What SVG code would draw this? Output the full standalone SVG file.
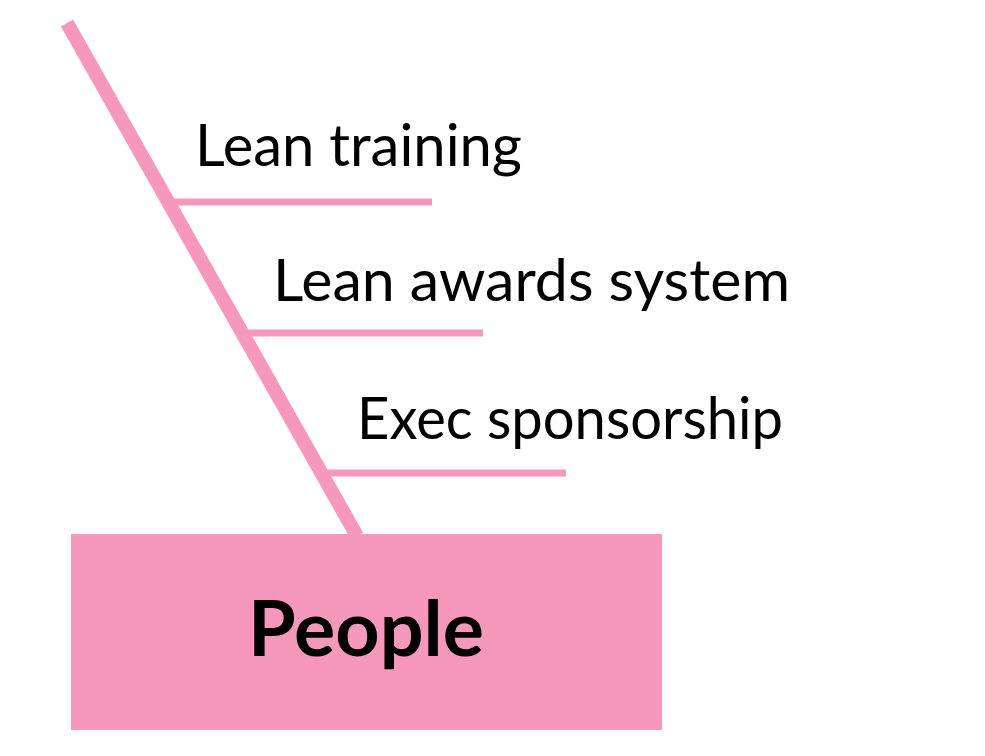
<svg xmlns="http://www.w3.org/2000/svg" width="985" height="756" viewBox="0 0 985 756">
<style>
.bone{stroke:#F598BB;fill:none;stroke-linecap:butt}
.lbl{font-family:Lato,"Liberation Sans",sans-serif;font-size:58px;fill:#000}
.head{font-family:Lato,"Liberation Sans",sans-serif;font-weight:bold;font-size:76px;fill:#000}
</style>
<rect width="985" height="756" fill="#fff"/>
<g id="connectors">
<line class="bone" x1="67" y1="23" x2="357" y2="536" stroke-width="14"/>
<line class="bone" x1="170" y1="202" x2="432" y2="202" stroke-width="7"/>
<line class="bone" x1="245" y1="333" x2="483" y2="333" stroke-width="7"/>
<line class="bone" x1="325" y1="473" x2="566" y2="473" stroke-width="7"/>
</g>
<g id="node-people">
<rect x="71" y="534" width="591" height="196" fill="#F598BB"/>
<text class="head" x="248" y="656" textLength="236" lengthAdjust="spacingAndGlyphs">People</text>
</g>
<g id="node-lean-training">
<text class="lbl" x="195" y="166" textLength="327" lengthAdjust="spacingAndGlyphs">Lean training</text>
</g>
<g id="node-lean-awards">
<text class="lbl" x="273" y="301" textLength="517" lengthAdjust="spacingAndGlyphs">Lean awards system</text>
</g>
<g id="node-exec">
<text class="lbl" x="357" y="439" textLength="426" lengthAdjust="spacingAndGlyphs">Exec sponsorship</text>
</g>
</svg>
